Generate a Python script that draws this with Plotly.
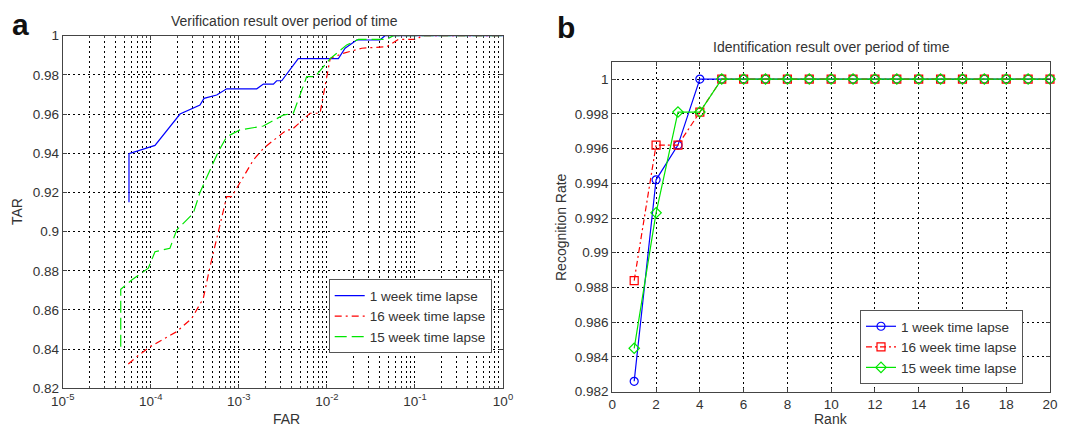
import plotly.graph_objects as go

# ---------------- data: panel a (verification) ----------------
far_1wk = [5.66e-5, 5.66e-5, 1.117e-4, 2.15e-4, 3.62e-4, 4.03e-4, 5.61e-4, 7.28e-4, 1.60e-3, 1.90e-3,
           2.47e-3, 2.69e-3, 3.07e-3, 4.73e-3, 1.35e-2, 1.61e-2, 2.18e-2, 4.01e-2, 4.57e-2, 1.0]
tar_1wk = [0.915, 0.9398, 0.944, 0.960, 0.9646, 0.968, 0.9697, 0.9729, 0.9729, 0.9753,
           0.9753, 0.977, 0.977, 0.9883, 0.9883, 0.9936, 0.9978, 0.9978, 1.0, 1.0]

far_16wk = [5.56e-5, 6.92e-5, 9.79e-5, 1.97e-4, 2.92e-4, 3.95e-4, 4.71e-4, 6.11e-4, 7.28e-4, 8.30e-4,
            1.46e-3, 1.90e-3, 3.50e-3, 3.98e-3, 6.43e-3, 8.36e-3, 1.04e-2, 1.09e-2, 1.53e-2, 2.49e-2,
            4.79e-2, 6.47e-2, 0.105, 0.119, 1.0]
tar_16wk = [0.8324, 0.8361, 0.8412, 0.8489, 0.8557, 0.8659, 0.8821, 0.9025, 0.9178, 0.9178,
            0.9365, 0.9425, 0.9519, 0.9519, 0.9604, 0.9604, 0.985, 0.9884, 0.991, 0.9936,
            0.9944, 0.9981, 0.9981, 1.0, 1.0]

far_15wk = [4.56e-5, 4.56e-5, 6.08e-5, 9.38e-5, 1.117e-4, 1.65e-4, 1.97e-4, 3.04e-4, 3.62e-4, 5.85e-4,
            7.28e-4, 1.03e-3, 1.90e-3, 3.20e-3, 4.16e-3, 5.90e-3, 7.33e-3, 1.09e-2, 1.68e-2, 2.28e-2,
            4.79e-2, 5.68e-2, 1.0]
tar_15wk = [0.8412, 0.8705, 0.8753, 0.8813, 0.8897, 0.8915, 0.9008, 0.9093, 0.920, 0.9408,
            0.9484, 0.9519, 0.9539, 0.9595, 0.9604, 0.9791, 0.9791, 0.9883, 0.9953, 0.9981,
            0.9981, 1.0, 1.0]

# ---------------- data: panel b (identification) ----------------
ranks = list(range(1, 21))
rate_1wk = [0.9826, 0.9942, 0.9962, 1.0] + [1.0] * 16
rate_16wk = [0.9884, 0.9962, 0.9962, 0.9981] + [1.0] * 16
rate_15wk = [0.9845, 0.9923, 0.9981, 0.9981] + [1.0] * 16

series_names = ["1 week time lapse", "16 week time lapse", "15 week time lapse"]

# ---------------- tick labels ----------------
far_tickvals = [1e-5, 1e-4, 1e-3, 1e-2, 1e-1, 1.0]
far_ticktext = ["10<sup>-5</sup>", "10<sup>-4</sup>", "10<sup>-3</sup>", "10<sup>-2</sup>",
                "10<sup>-1</sup>", "10<sup>0</sup>"]
tar_tickvals = [0.82, 0.84, 0.86, 0.88, 0.90, 0.92, 0.94, 0.96, 0.98, 1.0]
tar_ticktext = ["0.82", "0.84", "0.86", "0.88", "0.9", "0.92", "0.94", "0.96", "0.98", "1"]
rank_tickvals = list(range(0, 21, 2))
rate_tickvals = [0.982, 0.984, 0.986, 0.988, 0.990, 0.992, 0.994, 0.996, 0.998, 1.0]
rate_ticktext = ["0.982", "0.984", "0.986", "0.988", "0.99", "0.992", "0.994", "0.996", "0.998", "1"]

BLUE, RED, GREEN = "#0000ff", "#ff0000", "#00e600"
FONT = "Liberation Sans, Arial, sans-serif"
TXT = "#333333"

fig = go.Figure()

# panel a
fig.add_trace(go.Scatter(x=far_1wk, y=tar_1wk, mode="lines", name=series_names[0],
                         line=dict(color=BLUE, width=1.2, dash="solid"),
                         xaxis="x", yaxis="y", legend="legend"))
fig.add_trace(go.Scatter(x=far_16wk, y=tar_16wk, mode="lines", name=series_names[1],
                         line=dict(color=RED, width=1.2, dash="7px,4px,2px,4px"),
                         xaxis="x", yaxis="y", legend="legend"))
fig.add_trace(go.Scatter(x=far_15wk, y=tar_15wk, mode="lines", name=series_names[2],
                         line=dict(color=GREEN, width=1.2, dash="12px,5px"),
                         xaxis="x", yaxis="y", legend="legend"))

# panel b
fig.add_trace(go.Scatter(x=ranks, y=rate_1wk, mode="lines+markers", name=series_names[0],
                         line=dict(color=BLUE, width=1.2),
                         marker=dict(symbol="circle-open", size=8, color=BLUE, line=dict(width=1.2)),
                         xaxis="x2", yaxis="y2", legend="legend2", cliponaxis=False))
fig.add_trace(go.Scatter(x=ranks, y=rate_16wk, mode="lines+markers", name=series_names[1],
                         line=dict(color=RED, width=1.2, dash="6px,3px,2px,3px"),
                         marker=dict(symbol="square-open", size=8, color=RED, line=dict(width=1.2)),
                         xaxis="x2", yaxis="y2", legend="legend2", cliponaxis=False))
fig.add_trace(go.Scatter(x=ranks, y=rate_15wk, mode="lines+markers", name=series_names[2],
                         line=dict(color=GREEN, width=1.2),
                         marker=dict(symbol="diamond-open", size=8, color=GREEN, line=dict(width=1.2)),
                         xaxis="x2", yaxis="y2", legend="legend2", cliponaxis=False))

W, H = 1065, 426
GRID = dict(showgrid=True, gridcolor="#000000", gridwidth=1, griddash="2px,3px")
AX = dict(showline=True, linecolor="#444444", linewidth=1, mirror="ticks", ticks="inside",
          ticklen=4, tickcolor="#444444", zeroline=False, automargin=False,
          tickfont=dict(family=FONT, size=13.5, color=TXT))

minor_far = [k * 10.0 ** e for e in range(-5, 0) for k in range(2, 10)]

fig.update_layout(
    width=W, height=H,
    margin=dict(l=0, r=0, t=0, b=0, autoexpand=False),
    paper_bgcolor="white", plot_bgcolor="white",
    font=dict(family=FONT, size=13, color=TXT),
    showlegend=True,
    xaxis=dict(type="log", domain=[62.7 / W, 503 / W], range=[-5, 0],
               tickvals=far_tickvals, ticktext=far_ticktext,
               minor=dict(tickvals=minor_far, showgrid=True, gridcolor="#000000",
                          griddash="2px,3px", gridwidth=1, ticks="inside", ticklen=2,
                          tickcolor="#444444"),
               anchor="y", **GRID, **AX),
    yaxis=dict(domain=[(H - 388.3) / H, (H - 35.7) / H], range=[0.82, 1.0],
               tickvals=tar_tickvals, ticktext=tar_ticktext, anchor="x", **GRID, **AX),
    xaxis2=dict(domain=[612.3 / W, 1050 / W], range=[0, 20],
                tickvals=rank_tickvals, anchor="y2", **GRID, **AX),
    yaxis2=dict(domain=[(H - 391.7) / H, (H - 61.7) / H], range=[0.982, 1.001],
                tickvals=rate_tickvals, ticktext=rate_ticktext, anchor="x2", **GRID, **AX),
    legend=dict(x=491.7 / W, y=(H - 279.3) / H, xanchor="right", yanchor="top",
                bgcolor="white", bordercolor="#555555", borderwidth=1,
                font=dict(family=FONT, size=13.5, color=TXT), tracegroupgap=0),
    legend2=dict(x=1023 / W, y=(H - 310) / H, xanchor="right", yanchor="top",
                 bgcolor="white", bordercolor="#555555", borderwidth=1,
                 font=dict(family=FONT, size=13.5, color=TXT), tracegroupgap=0),
    annotations=[
        dict(text="Verification result over period of time", x=284 / W, y=(H - 21) / H,
             xref="paper", yref="paper", showarrow=False, xanchor="center", yanchor="middle",
             font=dict(family=FONT, size=14, color=TXT)),
        dict(text="Identification result over period of time", x=831 / W, y=(H - 47) / H,
             xref="paper", yref="paper", showarrow=False, xanchor="center", yanchor="middle",
             font=dict(family=FONT, size=14, color=TXT)),
        dict(text="<b>a</b>", x=20 / W, y=(H - 24) / H, xref="paper", yref="paper",
             showarrow=False, xanchor="center", yanchor="middle",
             font=dict(family=FONT, size=30, color="#111111")),
        dict(text="<b>b</b>", x=566 / W, y=(H - 28) / H, xref="paper", yref="paper",
             showarrow=False, xanchor="center", yanchor="middle",
             font=dict(family=FONT, size=30, color="#111111")),
        dict(text="TAR", x=17 / W, y=(H - 212) / H, xref="paper", yref="paper",
             showarrow=False, textangle=-90, xanchor="center", yanchor="middle",
             font=dict(family=FONT, size=14, color=TXT)),
        dict(text="FAR", x=286 / W, y=(H - 419) / H, xref="paper", yref="paper",
             showarrow=False, xanchor="center", yanchor="middle",
             font=dict(family=FONT, size=14, color=TXT)),
        dict(text="Recognition Rate", x=561 / W, y=(H - 227) / H, xref="paper", yref="paper",
             showarrow=False, textangle=-90, xanchor="center", yanchor="middle",
             font=dict(family=FONT, size=14, color=TXT)),
        dict(text="Rank", x=831 / W, y=(H - 419) / H, xref="paper", yref="paper",
             showarrow=False, xanchor="center", yanchor="middle",
             font=dict(family=FONT, size=14, color=TXT)),
    ],
)

fig.write_html("out.html", config={"displayModeBar": False},
               post_script="document.body.style.margin='0';document.body.style.overflow='hidden';")
